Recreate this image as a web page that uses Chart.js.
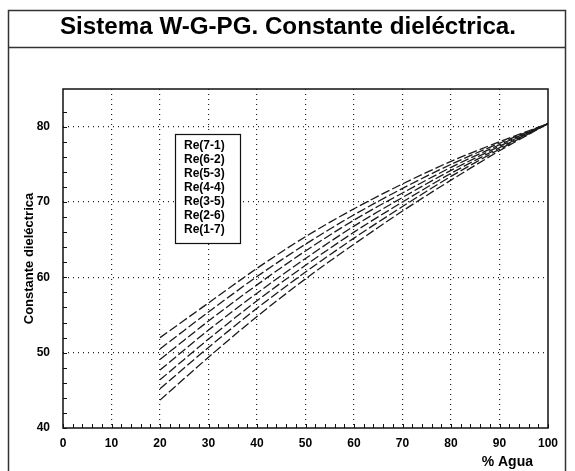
<!DOCTYPE html>
<html>
<head>
<meta charset="utf-8">
<script src="https://cdn.jsdelivr.net/npm/chart.js@4"></script>
<style>
  body { margin: 0; background: #fff; }
  #wrap { width: 575px; height: 471px; }
</style>
</head>
<body>
<div id="wrap"><canvas id="diel" width="575" height="471"></canvas></div>
<script>
// % agua
var xs = [20, 30, 40, 50, 60, 70, 80, 90, 100];
var re71 = [52.0, 56.6, 61.2, 65.4, 69.1, 72.4, 75.4, 78.0, 80.4];
var re62 = [50.5, 55.4, 60.1, 64.4, 68.3, 71.8, 75.0, 77.8, 80.4];
var re53 = [49.1, 54.2, 59.0, 63.5, 67.6, 71.2, 74.6, 77.6, 80.4];
var re44 = [47.7, 53.0, 57.9, 62.5, 66.8, 70.6, 74.2, 77.4, 80.4];
var re35 = [46.4, 51.8, 56.9, 61.6, 66.0, 70.0, 73.8, 77.2, 80.4];
var re26 = [45.2, 50.7, 55.9, 60.7, 65.2, 69.4, 73.4, 77.0, 80.4];
var re17 = [43.7, 49.4, 54.8, 59.8, 64.4, 68.8, 72.9, 76.8, 80.4];
var serieLabels = ["Re(7-1)", "Re(6-2)", "Re(5-3)", "Re(4-4)", "Re(3-5)", "Re(2-6)", "Re(1-7)"];
var series = [re71, re62, re53, re44, re35, re26, re17];
var xTicks = [0, 10, 20, 30, 40, 50, 60, 70, 80, 90, 100];
var yTicks = [40, 50, 60, 70, 80];

var FONT = "'Liberation Sans', Arial, sans-serif";

var datasets = series.map(function (s, i) {
  return {
    label: serieLabels[i],
    data: s.map(function (v, j) { return {x: xs[j], y: v}; }),
    borderColor: "#1a1a1a",
    borderWidth: 1.3,
    borderDash: [9, 3],
    pointRadius: 0,
    fill: false,
    tension: 0.3
  };
});

// marco exterior + titulo
var frame = {
  id: "frame",
  beforeDraw: function (chart) {
    var c = chart.ctx;
    c.save();
    c.fillStyle = "#fff";
    c.fillRect(0, 0, chart.width, chart.height);
    c.strokeStyle = "#333";
    c.lineWidth = 1.5;
    c.strokeRect(8.5, 10.5, 557, 470);
    c.beginPath();
    c.moveTo(8, 47.5);
    c.lineTo(566, 47.5);
    c.stroke();
    var t = "Sistema W-G-PG. Constante dieléctrica.";
    c.font = "bold 23px " + FONT;
    var w = c.measureText(t).width;
    c.translate(288, 34);
    c.scale(456 / w, 1);
    c.fillStyle = "#000";
    c.textAlign = "center";
    c.textBaseline = "alphabetic";
    c.fillText(t, 0, 0);
    c.restore();
  },
  afterDraw: function (chart) {
    var c = chart.ctx, a = chart.chartArea;
    c.save();
    // caja del grafico
    c.strokeStyle = "#111";
    c.lineWidth = 1.5;
    c.strokeRect(a.left, a.top, a.right - a.left, a.bottom - a.top);
    // marcas interiores
    c.lineWidth = 1;
    c.beginPath();
    chart.scales.x.ticks.forEach(function (t) {
      if (t.value % 2) return;
      var px = Math.round(chart.scales.x.getPixelForValue(t.value)) + 0.5;
      c.moveTo(px, a.bottom);
      c.lineTo(px, a.bottom - 4);
    });
    chart.scales.y.ticks.forEach(function (t) {
      if (t.value % 2) return;
      var py = Math.round(chart.scales.y.getPixelForValue(t.value)) + 0.5;
      c.moveTo(a.left, py);
      c.lineTo(a.left + 4, py);
    });
    c.stroke();
    // leyenda
    var lx = a.left + 112, ly = a.top + 45;
    c.fillStyle = "#fff";
    c.fillRect(lx, ly, 66, 110);
    c.lineWidth = 1.2;
    c.strokeRect(lx + 0.5, ly + 0.5, 65, 109);
    c.fillStyle = "#000";
    c.font = "bold 12px " + FONT;
    c.textBaseline = "middle";
    chart.data.datasets.forEach(function (d, i) {
      c.fillText(d.label, lx + 9, ly + 12 + i * 13.9);
    });
    // titulo eje x
    c.font = "bold 14px " + FONT;
    c.textAlign = "right";
    c.fillText("% Agua", 533, 462);
    c.restore();
  }
};

var ctx = document.getElementById("diel");
var chart = new Chart(ctx, {
  type: "line",
  data: { datasets: datasets },
  options: {
    responsive: false,
    animation: false,
    layout: { padding: { left: 0, right: 27, top: 89, bottom: 0 } },
    plugins: {
      legend: { display: false },
      tooltip: { enabled: false }
    },
    scales: {
      x: {
        type: "linear",
        min: 0,
        max: 100,
        afterFit: function (s) { s.height = 43; },
        ticks: {
          stepSize: 2,
          autoSkip: false,
          maxRotation: 0,
          padding: 8,
          color: "#000",
          font: { family: FONT, size: 12, weight: "bold" },
          callback: function (v) { return xTicks.indexOf(v) >= 0 ? String(v) : ""; }
        },
        grid: {
          drawTicks: false,
          lineWidth: 1.2,
          color: function (c) {
            var v = c.tick.value;
            return (v > 0 && v < 100 && v % 10 === 0) ? "#222" : "rgba(0,0,0,0)";
          }
        },
        border: { display: false, dash: [1, 4] }
      },
      y: {
        min: 40,
        max: 85,
        afterFit: function (s) { s.width = 63; },
        ticks: {
          stepSize: 2,
          autoSkip: false,
          padding: 13,
          color: "#000",
          font: { family: FONT, size: 12, weight: "bold" },
          callback: function (v) { return yTicks.indexOf(v) >= 0 ? String(v) : ""; }
        },
        grid: {
          drawTicks: false,
          lineWidth: 1.2,
          color: function (c) {
            var v = c.tick.value;
            return (v > 40 && v % 10 === 0) ? "#222" : "rgba(0,0,0,0)";
          }
        },
        border: { display: false, dash: [1, 4] },
        title: {
          display: true,
          text: "Constante dieléctrica",
          color: "#000",
          padding: { top: 22, bottom: 0 },
          font: { family: FONT, size: 13, weight: "bold" }
        }
      }
    }
  },
  plugins: [frame]
});
</script>
</body>
</html>
